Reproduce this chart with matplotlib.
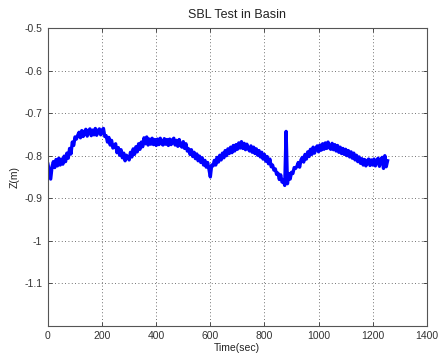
import numpy as np
import matplotlib
matplotlib.use("Agg")
import matplotlib.pyplot as plt

plt.rcParams["font.family"] = ["Liberation Sans", "DejaVu Sans"]

# depth samples every 5 s
t_step = 5
z = [
    # 0-95
    -0.820, -0.838, -0.855, -0.826, -0.814, -0.828, -0.809, -0.824, -0.806, -0.822,
    -0.808, -0.820, -0.801, -0.814, -0.794, -0.806, -0.783, -0.796, -0.768, -0.776,
    # 100-195
    -0.756, -0.761, -0.752, -0.745, -0.758, -0.741, -0.755, -0.744, -0.738, -0.754,
    -0.742, -0.737, -0.753, -0.740, -0.751, -0.736, -0.752, -0.741, -0.737, -0.751,
    # 200-295
    -0.740, -0.736, -0.755, -0.753, -0.768, -0.757, -0.775, -0.764, -0.782, -0.778,
    -0.772, -0.793, -0.781, -0.799, -0.786, -0.805, -0.794, -0.812, -0.799, -0.804,
    # 300-395
    -0.810, -0.792, -0.803, -0.784, -0.797, -0.779, -0.791, -0.772, -0.785, -0.768,
    -0.779, -0.758, -0.772, -0.756, -0.775, -0.761, -0.773, -0.759, -0.774, -0.762,
    # 400-495
    -0.776, -0.761, -0.774, -0.759, -0.772, -0.775, -0.760, -0.773, -0.762, -0.776,
    -0.761, -0.774, -0.763, -0.759, -0.775, -0.764, -0.778, -0.762, -0.776, -0.780,
    # 500-595
    -0.767, -0.783, -0.772, -0.789, -0.784, -0.797, -0.786, -0.802, -0.792, -0.807,
    -0.796, -0.812, -0.801, -0.816, -0.805, -0.822, -0.811, -0.827, -0.816, -0.832,
    # 600-695
    -0.850, -0.822, -0.824, -0.811, -0.822, -0.804, -0.815, -0.799, -0.810, -0.794,
    -0.805, -0.788, -0.800, -0.784, -0.795, -0.780, -0.793, -0.776, -0.789, -0.774,
    # 700-795
    -0.785, -0.770, -0.782, -0.767, -0.783, -0.771, -0.786, -0.773, -0.784, -0.789,
    -0.777, -0.792, -0.780, -0.795, -0.784, -0.799, -0.788, -0.803, -0.792, -0.808,
    # 800-895 (spike at 880)
    -0.797, -0.813, -0.802, -0.819, -0.808, -0.826, -0.822, -0.834, -0.831, -0.844,
    -0.841, -0.856, -0.845, -0.862, -0.858, -0.870, -0.743, -0.866, -0.842, -0.855,
    # 900-995
    -0.839, -0.842, -0.828, -0.830, -0.825, -0.816, -0.827, -0.810, -0.804, -0.815,
    -0.797, -0.808, -0.791, -0.802, -0.785, -0.797, -0.780, -0.794, -0.782, -0.777,
    # 1000-1095
    -0.791, -0.775, -0.787, -0.772, -0.785, -0.770, -0.783, -0.768, -0.781, -0.785,
    -0.771, -0.786, -0.774, -0.789, -0.776, -0.792, -0.780, -0.795, -0.783, -0.797,
    # 1100-1195
    -0.785, -0.800, -0.788, -0.803, -0.791, -0.806, -0.794, -0.810, -0.799, -0.814,
    -0.803, -0.818, -0.807, -0.822, -0.809, -0.824, -0.812, -0.808, -0.823, -0.810,
    # 1200-1255
    -0.822, -0.808, -0.824, -0.811, -0.806, -0.825, -0.810, -0.804, -0.830, -0.800,
    -0.826, -0.812,
]
t = np.arange(len(z)) * t_step

x_ticks = [0, 200, 400, 600, 800, 1000, 1200, 1400]
y_ticks = [-1.1, -1.0, -0.9, -0.8, -0.7, -0.6, -0.5]
y_labels = ["-1.1", "-1", "-0.9", "-0.8", "-0.7", "-0.6", "-0.5"]

fig = plt.figure(figsize=(4.4, 3.6), dpi=100)
ax = fig.add_axes([0.109, 0.095, 0.861, 0.827])
ax.plot(t, z, color="#0000ff", linewidth=2.4)

ax.set_xlim(0, 1400)
ax.set_ylim(-1.2, -0.5)
ax.set_xticks(x_ticks)
ax.set_yticks(y_ticks)
ax.set_yticklabels(y_labels)
ax.grid(True, color="#444444", linestyle=(0, (1, 3)), linewidth=0.6)
ax.tick_params(direction="in", length=3, width=0.6, labelsize=7.5,
               colors="#333333", top=True, right=True, pad=4)
for s in ax.spines.values():
    s.set_color("#555555")
    s.set_linewidth(0.8)

ax.set_title("SBL Test in Basin", fontsize=9, color="#222222", pad=7)
ax.set_xlabel("Time(sec)", fontsize=7.5, color="#222222", labelpad=1)
ax.set_ylabel("Z(m)", fontsize=7.5, color="#222222", labelpad=3)

fig.savefig("out.png", dpi=100)
